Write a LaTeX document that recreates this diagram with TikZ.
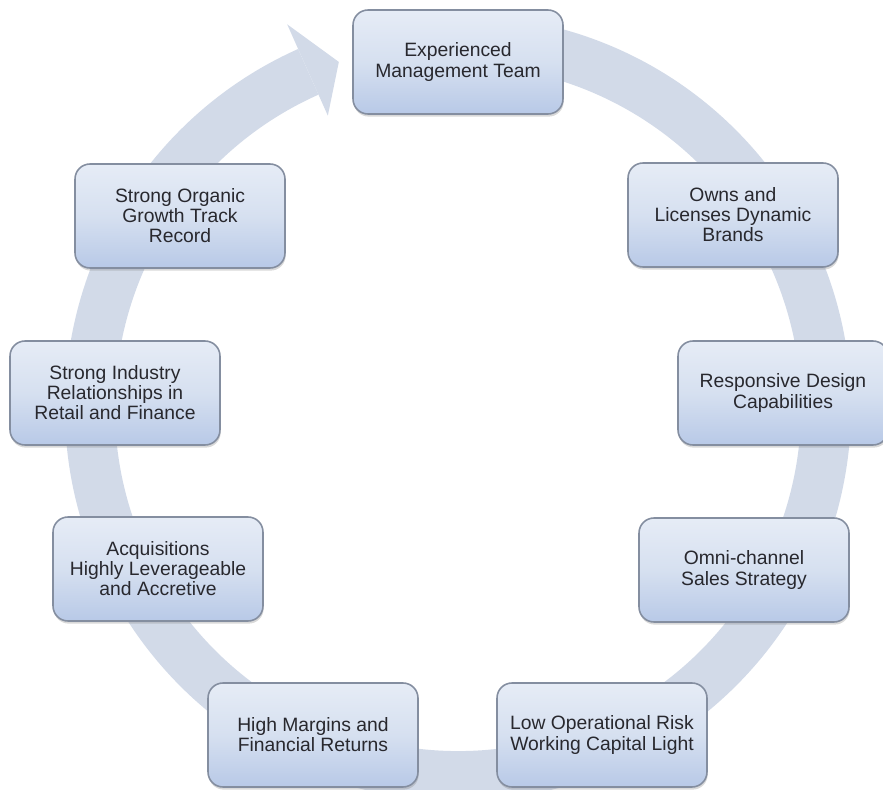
\documentclass[tikz,border=0pt]{standalone}
\usepackage{fontspec}
\setmainfont{Liberation Sans}
\usetikzlibrary{shadows}
\definecolor{bandgray}{RGB}{210,218,232}
\definecolor{boxtop}{RGB}{230,236,246}
\definecolor{boxmid}{RGB}{214,224,240}
\definecolor{boxbot}{RGB}{184,201,231}
\definecolor{boxline}{RGB}{132,142,160}
\definecolor{boxtext}{RGB}{40,40,46}
\tikzset{
  factor/.style={draw=boxline, line width=0.9pt, rounded corners=0.3cm,
    top color=boxtop, bottom color=boxbot, middle color=boxmid,
    minimum width=4.2cm, minimum height=2.08cm, align=center, text=boxtext,
    font=\fontsize{11}{11.4}\selectfont,
    drop shadow={shadow xshift=0.4pt, shadow yshift=-1.5pt, opacity=0.3}}
}

\begin{document}
\begin{tikzpicture}[x=0.02cm,y=0.02cm]
\useasboundingbox (0,0) rectangle (883,789);
\begin{scope}[shift={(458,381)}]
\fill[bandgray] (78:393) arc[start angle=78, end angle=-246, radius=393]
  -- (114:343) arc[start angle=-246, end angle=78, radius=343] -- cycle;
\fill[bandgray] (114:320) -- (114:420) -- (109:366) -- cycle;
\end{scope}
\node[factor] (team) at (458,727) {Experienced\\Management Team};
\node[factor] (owns) at (733,574) {Owns and\\Licenses Dynamic\\Brands};
\node[factor] (design) at (783,396) {Responsive Design\\Capabilities};
\node[factor] (omni) at (744,219) {Omni-channel\\Sales Strategy};
\node[factor] (risk) at (602,54) {Low Operational Risk\\Working Capital Light};
\node[factor] (margins) at (313,54) {High Margins and\\Financial Returns};
\node[factor] (acq) at (158,220) {Acquisitions\\Highly Leverageable\\and Accretive};
\node[factor] (industry) at (115,396) {Strong Industry\\Relationships in\\Retail and Finance};
\node[factor] (organic) at (180,573) {Strong Organic\\Growth Track\\Record};
\end{tikzpicture}
\end{document}
